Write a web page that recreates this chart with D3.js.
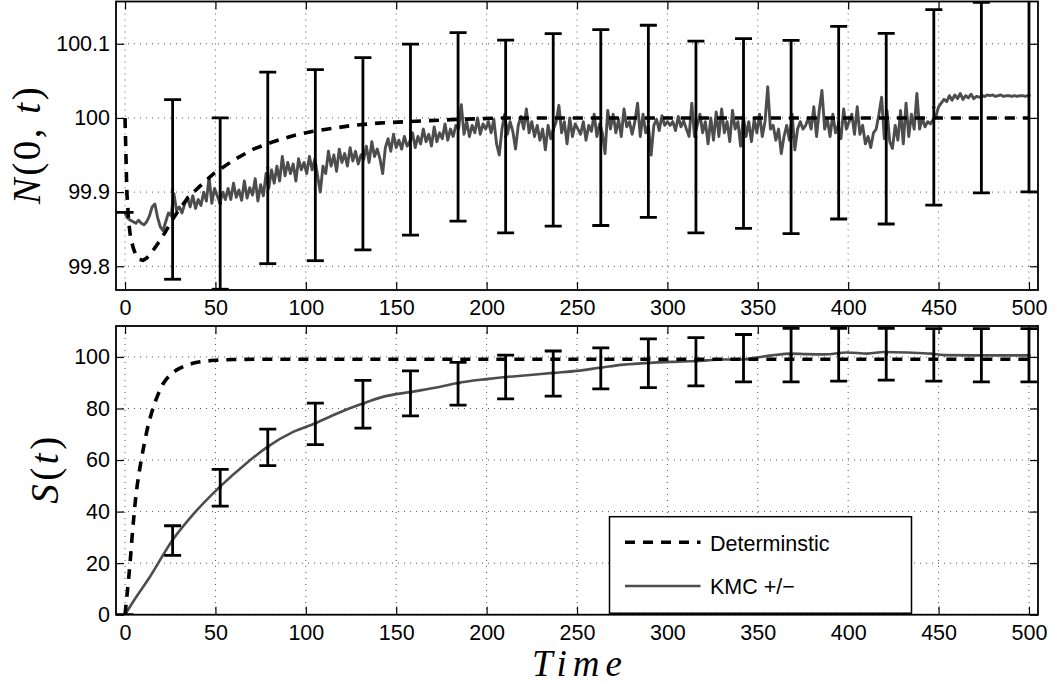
<!DOCTYPE html>
<html>
<head>
<meta charset="utf-8">
<script src="https://cdn.jsdelivr.net/npm/d3@7"></script>
<style>
  body { margin: 0; background: #fff; }
  svg text { font-family: "Liberation Sans", Arial, Helvetica, sans-serif; fill: #000; }
</style>
</head>
<body>
<svg id="chart" width="1054" height="685"></svg>
<script>
// ── Data ────────────────────────────────────────────────────────────────────
const xTicks = [0, 50, 100, 150, 200, 250, 300, 350, 400, 450, 500];
const nTicks = [99.8, 99.9, 100, 100.1];
const sTicks = [0, 20, 40, 60, 80, 100];

// deterministic N(0,t)
const detNTime  = [0, 1, 2, 3, 4.5, 6, 8, 10, 12, 14, 18, 22, 26, 30, 35, 41, 49, 60, 71, 82, 93, 104, 115, 126, 140, 156, 183, 210, 500];
const detNValue = [100, 99.9, 99.86, 99.84, 99.825, 99.815, 99.809, 99.808, 99.811, 99.816, 99.83, 99.845, 99.862, 99.877, 99.893, 99.907, 99.925, 99.943, 99.958, 99.968, 99.976, 99.982, 99.986, 99.99, 99.993, 99.995, 99.998, 100, 100];

// KMC N(0,t), sampled every kmcNStep time units starting at t = 0
const kmcNStep = 1.5;
const kmcNValue = [
  99.871, 99.865, 99.862, 99.860, 99.858, 99.862, 99.858, 99.856, 99.860,          // t 0
  99.868, 99.880, 99.884, 99.866, 99.853,                                          // t 13.5
  99.848, 99.860, 99.872,                                                          // t 21
  99.868, 99.898, 99.875, 99.880, 99.872,                                          // t 25.5
  99.884, 99.893, 99.880, 99.895, 99.878, 99.890, 99.882,                          // t 33
  99.900, 99.888, 99.920, 99.885, 99.905,                                          // t 43.5
  99.895, 99.885, 99.900, 99.890, 99.905,                                          // t 51
  99.890, 99.912, 99.893, 99.903, 99.889, 99.915, 99.892, 99.906,                  // t 58.5
  99.896, 99.918, 99.888, 99.910, 99.895, 99.925,                                  // t 70.5
  99.905, 99.930, 99.912, 99.935, 99.915, 99.948,                                  // t 79.5
  99.922, 99.940, 99.925, 99.938, 99.915, 99.945, 99.930,                          // t 88.5
  99.940, 99.925, 99.948, 99.930, 99.945, 99.922, 99.900, 99.935,                  // t 99
  99.925, 99.955, 99.935, 99.950, 99.928, 99.958, 99.940,                          // t 111
  99.952, 99.935, 99.960, 99.942, 99.955, 99.938, 99.950, 99.944,                  // t 121.5
  99.962, 99.940, 99.968, 99.948, 99.958, 99.945, 99.925,                          // t 133.5
  99.960, 99.972, 99.955, 99.978, 99.960, 99.970, 99.958, 99.975, 99.962, 99.968,  // t 144
  99.980, 99.960, 99.975, 99.965, 99.985, 99.968, 99.978, 99.962,                  // t 159
  99.988, 99.968, 99.980, 99.972, 99.992, 99.970, 99.985, 99.975, 99.990,          // t 171
  99.985, 100.018, 99.978, 99.995, 99.975, 99.990, 99.980, 100.000, 99.978, 99.992, 99.985, // t 184.5
  99.995, 99.980, 99.998, 99.965, 99.950, 99.985,                                  // t 201
  100.005, 99.978, 99.995, 99.982, 99.958, 99.990, 100.002, 99.985, 100.012,       // t 210
  99.980, 99.995, 99.975, 99.990, 99.970, 99.985, 99.957, 99.990, 99.972,          // t 223.5
  99.985, 99.995, 100.017, 99.980, 99.995, 99.965, 100.000, 99.975, 99.992, 99.985, // t 237
  99.978, 99.995, 99.970, 99.990, 99.982, 100.005, 99.975, 99.992, 99.980, 99.952, // t 252
  100.010, 99.985, 100.005, 99.980, 99.998, 99.975, 100.012, 99.988, 99.995,       // t 267
  99.978, 99.995, 100.020, 99.975, 100.005, 99.980, 99.990, 99.950,                // t 280.5
  99.990, 99.998, 99.983, 100.003, 99.990, 99.995,                                 // t 292.5
  99.990, 99.995, 99.983, 100.002, 99.988, 99.996, 99.985, 99.975, 100.020,        // t 301.5
  99.975, 99.990, 100.005, 99.980, 99.995, 99.965, 100.000,                        // t 315
  99.970, 100.008, 99.975, 100.012, 99.980, 99.995, 99.968, 100.010, 99.985,       // t 325.5
  99.995, 99.962, 100.003, 99.975, 99.995, 99.968, 99.998, 99.980,                 // t 339
  100.005, 99.975, 99.995, 100.042, 99.985, 99.990, 99.970, 99.985, 99.952,        // t 351
  99.975, 99.990, 99.970, 100.005, 99.957, 99.985, 99.995, 99.985,                 // t 364.5
  99.990, 100.000, 99.985, 100.015, 99.975, 100.010, 100.037, 99.985,              // t 376.5
  99.998, 99.975, 100.005, 99.980, 99.990, 99.972, 100.012, 99.985, 99.995, 100.005, 99.978, // t 388.5
  100.015, 99.978, 99.990, 99.965, 99.975, 99.960, 99.980,                         // t 405
  99.985, 100.005, 100.028, 99.972, 100.010, 99.968, 99.959, 99.990,               // t 415.5
  99.970, 100.010, 99.965, 100.020, 99.975, 100.005, 99.985, 100.033,              // t 427.5
  99.985, 100.000, 99.988, 99.995, 99.992, 99.998, 100.002,                        // t 439.5
  100.015, 100.020, 100.025, 100.022, 100.030, 100.024, 100.031, 100.026, 100.033, 100.025, 100.030, 100.027, 100.032, 100.026, 100.029, // t 450
  100.028, 100.030, 100.029, 100.031, 100.030, 100.031, 100.029, 100.030, 100.031, 100.029, 100.030, 100.030, 100.029, 100.030, 100.029, 100.030, 100.030, 100.029, 100.030 // t 472.5
];

// error bars (same times in both panels)
const errTime  = [0, 26.32, 52.63, 78.95, 105.26, 131.58, 157.89, 184.21, 210.53, 236.84, 263.16, 289.47, 315.79, 342.11, 368.42, 394.74, 421.05, 447.37, 473.68, 500];
const errNLow  = [99.8727, 99.7825, 99.769, 99.8035, 99.8075, 99.822, 99.842, 99.861, 99.845, 99.854, 99.855, 99.866, 99.845, 99.851, 99.844, 99.8637, 99.857, 99.8825, 99.899, 99.9004];
const errNHigh = [99.8727, 100.0248, 100.0, 100.0619, 100.0651, 100.0813, 100.0996, 100.115, 100.105, 100.1136, 100.119, 100.125, 100.1036, 100.107, 100.1046, 100.1234, 100.114, 100.146, 100.156, 100.16];
const errSLow  = [0, 23.0, 42.1, 57.8, 66.0, 72.4, 77.1, 81.3, 83.7, 84.8, 87.6, 88.1, 88.8, 90.3, 90.3, 90.6, 91.0, 90.6, 90.3, 90.3];
const errSHigh = [0, 34.5, 56.4, 72.0, 82.1, 90.9, 94.6, 97.9, 100.7, 102.3, 103.5, 107.0, 107.5, 108.7, 111.1, 111.1, 111.1, 111.0, 111.0, 111.0];

// deterministic S(t)
const detSTime  = [0, 1, 2, 3, 4, 5, 6, 8, 10, 12, 15, 18, 21, 25, 30, 35, 40, 45, 50, 60, 80, 500];
const detSValue = [0, 7, 14, 22, 31, 39, 46, 56, 64, 71, 79, 85, 89.5, 93, 95.5, 97, 97.9, 98.4, 98.7, 99.0, 99.1, 99.1];

// KMC S(t)
const kmcSTime  = [0, 5, 13.7, 26.3, 35.8, 52.4, 67, 78.8, 93, 105, 115, 131.4, 143, 157.9, 174.4, 184, 200, 210.5, 222.5, 236.7, 250, 263.5, 276, 290, 303, 316, 331, 342, 349.5, 358, 368, 377, 386.6, 399.5, 410.6, 419.8, 432.7, 445.6, 453, 469.6, 485, 500];
const kmcSValue = [0, 5.6, 14.6, 29, 37.4, 49.6, 58.7, 65.1, 70.9, 74.2, 77.4, 81.9, 84.6, 86.4, 88.4, 89.9, 91.4, 92.2, 92.9, 93.8, 94.6, 95.9, 97.0, 97.7, 98.1, 98.4, 99.0, 99.0, 99.8, 100.6, 101.3, 101.1, 101.0, 101.7, 101.3, 101.9, 101.7, 101.3, 100.7, 100.6, 100.6, 100.6];

const legendItems = ['Determinstic', 'KMC +/\u2212'];

// ── Layout ──────────────────────────────────────────────────────────────────
const svg = d3.select('#chart');
const left = 116, right = 1038;
const x  = d3.scaleLinear().domain([-5, 505]).range([left, right]);
const yN = d3.scaleLinear().domain([99.768, 100.157]).range([290, 1.5]);
const yS = d3.scaleLinear().domain([0, 112]).range([614.7, 326]);

const GRAY = '#4d4d4d';
const DASH = '10,8';
const SANS = '"Liberation Sans", Arial, Helvetica, sans-serif';
const SERIF = '"Liberation Serif", "Times New Roman", Times, serif';
const defs = svg.append('defs');

function drawPanel(y, yTicks, id) {
  const [yb, yt] = y.range();
  defs.append('clipPath').attr('id', id)
    .append('rect').attr('x', left).attr('y', yt).attr('width', right - left).attr('height', yb - yt);

  const g = svg.append('g');

  // dotted grid
  g.selectAll('.gx').data(xTicks).join('line')
    .attr('x1', d => x(d)).attr('x2', d => x(d)).attr('y1', yt).attr('y2', yb)
    .attr('stroke', '#444').attr('stroke-width', 0.9).attr('stroke-dasharray', '1,5');
  g.selectAll('.gy').data(yTicks).join('line')
    .attr('y1', d => y(d)).attr('y2', d => y(d)).attr('x1', left).attr('x2', right)
    .attr('stroke', '#444').attr('stroke-width', 0.9).attr('stroke-dasharray', '1,5');

  const fmt = d => String(+d.toFixed(1));

  const axB = g.append('g').attr('transform', `translate(0,${yb})`)
    .call(d3.axisBottom(x).tickValues(xTicks).tickSizeInner(-8).tickSizeOuter(0).tickPadding(10));
  const axT = g.append('g').attr('transform', `translate(0,${yt})`)
    .call(d3.axisTop(x).tickValues(xTicks).tickSizeInner(-8).tickSizeOuter(0).tickFormat(''));
  const axL = g.append('g').attr('transform', `translate(${left},0)`)
    .call(d3.axisLeft(y).tickValues(yTicks).tickSizeInner(-8).tickSizeOuter(0).tickPadding(6).tickFormat(fmt));
  const axR = g.append('g').attr('transform', `translate(${right},0)`)
    .call(d3.axisRight(y).tickValues(yTicks).tickSizeInner(-8).tickSizeOuter(0).tickFormat(''));

  [axB, axT, axL, axR].forEach(a => {
    a.select('.domain').remove();
    a.selectAll('line').attr('stroke', '#000').attr('stroke-width', 1.2);
    a.selectAll('text').attr('font-size', 21.5).attr('font-family', SANS).attr('fill', '#000');
  });

  const plot = svg.append('g').attr('clip-path', `url(#${id})`);
  return { plot, yb, yt };
}

function drawErrorBars(plot, y, lows, highs) {
  const cap = 8.5;
  const eg = plot.append('g').attr('stroke', '#000').attr('stroke-width', 2.8);
  errTime.forEach((t, i) => {
    const cx = x(t), y1 = y(lows[i]), y2 = y(highs[i]);
    if (y1 !== y2) eg.append('line').attr('x1', cx).attr('x2', cx).attr('y1', y1).attr('y2', y2);
    eg.append('line').attr('x1', cx - cap).attr('x2', cx + cap).attr('y1', y1).attr('y2', y1);
    if (y1 !== y2) eg.append('line').attr('x1', cx - cap).attr('x2', cx + cap).attr('y1', y2).attr('y2', y2);
    plot.append('circle').attr('cx', cx).attr('cy', (y1 + y2) / 2).attr('r', 1.6).attr('fill', '#000');
  });
}

function frame(yb, yt) {
  svg.append('rect').attr('x', left).attr('y', yt).attr('width', right - left).attr('height', yb - yt)
    .attr('fill', 'none').attr('stroke', '#000').attr('stroke-width', 1.8);
}

// ── Top panel: N(0,t) ───────────────────────────────────────────────────────
const topP = drawPanel(yN, nTicks, 'clipN');
const kmcNPts = kmcNValue.map((v, i) => [i * kmcNStep, v]).filter(p => p[0] <= 500);
topP.plot.append('path').datum(kmcNPts)
  .attr('fill', 'none').attr('stroke', GRAY).attr('stroke-width', 2.9).attr('stroke-linejoin', 'round')
  .attr('d', d3.line().x(d => x(d[0])).y(d => yN(d[1])));
topP.plot.append('path').datum(detNTime.map((t, i) => [t, detNValue[i]]))
  .attr('fill', 'none').attr('stroke', '#000').attr('stroke-width', 3.6).attr('stroke-dasharray', DASH)
  .attr('d', d3.line().x(d => x(d[0])).y(d => yN(d[1])));
drawErrorBars(topP.plot, yN, errNLow, errNHigh);
frame(topP.yb, topP.yt);

// ── Bottom panel: S(t) ──────────────────────────────────────────────────────
const botP = drawPanel(yS, sTicks, 'clipS');
botP.plot.append('path').datum(kmcSTime.map((t, i) => [t, kmcSValue[i]]))
  .attr('fill', 'none').attr('stroke', GRAY).attr('stroke-width', 2.6)
  .attr('d', d3.line().x(d => x(d[0])).y(d => yS(d[1])).curve(d3.curveMonotoneX));
botP.plot.append('path').datum(detSTime.map((t, i) => [t, detSValue[i]]))
  .attr('fill', 'none').attr('stroke', '#000').attr('stroke-width', 3.6).attr('stroke-dasharray', DASH)
  .attr('d', d3.line().x(d => x(d[0])).y(d => yS(d[1])).curve(d3.curveMonotoneX));
drawErrorBars(botP.plot, yS, errSLow, errSHigh);
frame(botP.yb, botP.yt);

// ── Axis labels (LaTeX-style math) ──────────────────────────────────────────
function mathText(parts, attrs, size) {
  const t = svg.append('text').attr('font-size', size).attr('text-anchor', 'middle')
    .style('font-family', SERIF);
  Object.entries(attrs).forEach(([k, v]) => t.attr(k, v));
  parts.forEach(p => t.append('tspan').style('font-family', SERIF)
    .style('font-style', p.it ? 'italic' : 'normal').text(p.s));
  return t;
}
mathText([{ s: 'N', it: true }, { s: '(0, ' }, { s: 't', it: true }, { s: ')' }],
  { transform: `translate(40,${(topP.yb + topP.yt) / 2}) rotate(-90)`, textLength: 117, lengthAdjust: 'spacing' }, 39);
mathText([{ s: 'S', it: true }, { s: '(' }, { s: 't', it: true }, { s: ')' }],
  { transform: `translate(58,${(botP.yb + botP.yt) / 2}) rotate(-90)`, textLength: 67, lengthAdjust: 'spacing' }, 39);
mathText([{ s: 'Time', it: true }],
  { x: (left + right) / 2, y: 676, textLength: 90, lengthAdjust: 'spacing' }, 37);

// ── Legend ──────────────────────────────────────────────────────────────────
const lg = svg.append('g').attr('transform', 'translate(609.5,516.7)');
lg.append('rect').attr('width', 302).attr('height', 96.5).attr('fill', '#fff').attr('stroke', '#000').attr('stroke-width', 1.5);
const legendStyles = [
  { stroke: '#000', width: 3.6, dash: DASH },
  { stroke: GRAY, width: 2.6, dash: null }
];
legendItems.forEach((name, i) => {
  const yy = 25.6 + i * 43.7;
  lg.append('line').attr('x1', 15.5).attr('x2', 91).attr('y1', yy).attr('y2', yy)
    .attr('stroke', legendStyles[i].stroke).attr('stroke-width', legendStyles[i].width)
    .attr('stroke-dasharray', legendStyles[i].dash);
  lg.append('text').attr('x', 100.5).attr('y', yy + 8.3).attr('font-size', 21.5).text(name);
});
</script>
</body>
</html>
